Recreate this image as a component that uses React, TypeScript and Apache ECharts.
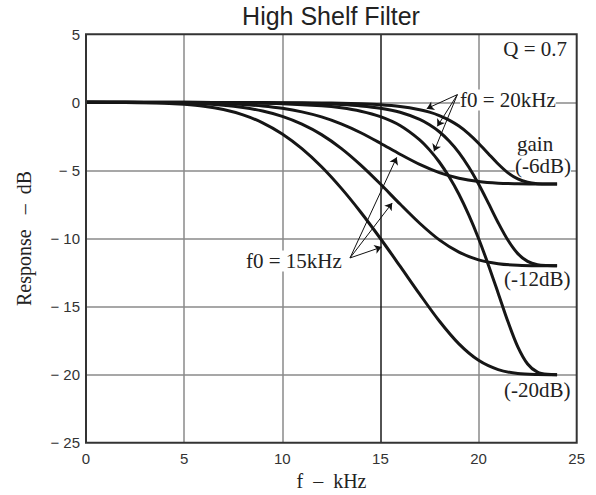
import React, { useEffect, useRef } from 'react';
import * as echarts from 'echarts';

// Frequency samples (kHz)
const freqA = [0, 2, 4, 5, 6, 7, 8, 9, 10, 11, 12, 13, 14, 15, 16, 17, 18, 19, 20, 21, 22, 23, 24];
const freqB = [0, 5, 8, 10, 12, 13, 14, 15, 16, 17, 17.5, 18, 18.5, 19, 19.5, 20, 20.5, 21, 21.5, 22, 22.5, 23, 23.5, 24];

// f0 = 15 kHz responses (dB)
const f15g6 = [0, 0, -0.01, -0.02, -0.05, -0.09, -0.16, -0.27, -0.44, -0.7, -1.07, -1.58, -2.23, -3.0, -3.81, -4.56, -5.16, -5.57, -5.82, -5.94, -5.98, -6.0, -6.0];
const f15g12 = [0, 0, -0.03, -0.06, -0.11, -0.21, -0.38, -0.64, -1.03, -1.6, -2.37, -3.38, -4.61, -6.0, -7.47, -8.88, -10.1, -11.0, -11.57, -11.85, -11.97, -12.0, -12.0];
const f15g20 = [0, -0.01, -0.06, -0.14, -0.28, -0.53, -0.92, -1.5, -2.32, -3.4, -4.73, -6.3, -8.07, -10.0, -12.03, -14.09, -16.06, -17.74, -18.95, -19.63, -19.92, -19.99, -20.0];

// f0 = 20 kHz responses (dB)
const f20g6 = [0, 0, -0.01, -0.02, -0.04, -0.07, -0.11, -0.18, -0.31, -0.54, -0.72, -0.97, -1.3, -1.74, -2.31, -3.0, -3.77, -4.53, -5.18, -5.62, -5.87, -5.97, -6.0, -6.0];
const f20g12 = [0, 0, -0.02, -0.04, -0.1, -0.16, -0.26, -0.43, -0.73, -1.25, -1.65, -2.16, -2.84, -3.69, -4.75, -6.0, -7.4, -8.84, -10.13, -11.11, -11.68, -11.93, -11.99, -12.0];
const f20g20 = [0, -0.01, -0.04, -0.1, -0.25, -0.4, -0.65, -1.05, -1.7, -2.75, -3.49, -4.38, -5.47, -6.75, -8.27, -10.0, -11.94, -14.02, -16.12, -17.96, -19.22, -19.82, -19.98, -20.0];

// Axis ranges / ticks
const xMin = 0, xMax = 25, xStep = 5;
const yMin = -25, yMax = 5, yStep = 5;

// Annotation arrows in data coordinates [from, to]
const arrows20: number[][][] = [
  [[18.92, 0.57], [17.36, -0.46]],
  [[18.92, 0.57], [17.9, -1.76]],
  [[18.92, 0.57], [17.73, -3.6]],
];
const arrows15: number[][][] = [
  [[13.45, -11.43], [15.83, -4.04]],
  [[13.45, -11.43], [15.6, -7.39]],
  [[13.45, -11.43], [15.06, -10.63]],
];

const SERIF = "'Liberation Serif', 'Times New Roman', serif";
const SANS = "'Liberation Sans', Arial, sans-serif";

const zip = (xs: number[], ys: number[]) => xs.map((x, i) => [x, ys[i]]);

const curve = (name: string, xs: number[], ys: number[]) => ({
  name,
  type: 'line',
  data: zip(xs, ys),
  showSymbol: false,
  smooth: 0.3,
  lineStyle: { color: '#161616', width: 3 },
  z: 3,
});

const label = (text: string, x: number, y: number, align: string = 'left', bg = true) => ({
  type: 'text',
  x,
  y,
  z: 1,
  style: {
    text,
    fill: '#222',
    font: `21px ${SERIF}`,
    align,
    verticalAlign: 'middle',
    backgroundColor: bg ? '#fff' : undefined,
  },
});

export default function App() {
  const ref = useRef<HTMLDivElement>(null);
  useEffect(() => {
    const chart = echarts.init(ref.current!, null, { renderer: 'svg', width: 596, height: 495 });
    const gridLeft = 86, gridTop = 34.3, gridW = 490.7, gridH = 408.4;
    const axisLabel = {
      color: '#333',
      fontFamily: SANS,
      fontSize: 15,
    };
    const option: any = {
      animation: false,
      backgroundColor: '#fff',
      grid: { left: gridLeft, top: gridTop, width: gridW, height: gridH, show: false },
      xAxis: {
        type: 'value',
        min: xMin,
        max: xMax,
        interval: xStep,
        axisLine: { show: false },
        axisTick: { show: false },
        axisLabel: { ...axisLabel, margin: 8 },
        splitLine: {
          show: true,
          showMinLine: false,
          showMaxLine: false,
          lineStyle: { color: ['#8a8a8a', '#8a8a8a', '#1a1a1a', '#8a8a8a'], width: 1.5 },
        },
      },
      yAxis: {
        type: 'value',
        min: yMin,
        max: yMax,
        interval: yStep,
        axisLine: { show: false },
        axisTick: { show: false },
        axisLabel: {
          ...axisLabel,
          margin: 6,
          formatter: (v: number) => (v < 0 ? `\u2212 ${-v}` : `${v}`),
        },
        splitLine: {
          show: true,
          showMinLine: false,
          showMaxLine: false,
          lineStyle: { color: '#8a8a8a', width: 1.5 },
        },
      },
      series: [
        curve('f0=15kHz -6dB', freqA, f15g6),
        curve('f0=15kHz -12dB', freqA, f15g12),
        curve('f0=15kHz -20dB', freqA, f15g20),
        curve('f0=20kHz -6dB', freqB, f20g6),
        curve('f0=20kHz -12dB', freqB, f20g12),
        curve('f0=20kHz -20dB', freqB, f20g20),
        {
          type: 'lines',
          coordinateSystem: 'cartesian2d',
          symbol: ['none', 'arrow'],
          symbolSize: 7,
          lineStyle: { color: '#111', width: 1, opacity: 1 },
          data: [...arrows20, ...arrows15].map((c) => ({ coords: c })),
          z: 4,
        },
      ],
      graphic: [
        {
          type: 'text',
          x: 331,
          y: 16.3,
          z: 1,
          style: { text: 'High Shelf Filter', fill: '#222', font: `25px ${SANS}`, align: 'center', verticalAlign: 'middle' },
        },
        {
          type: 'text',
          x: 331.5,
          y: 481,
          z: 1,
          style: { text: 'f\u00a0\u00a0\u2013\u00a0\u00a0kHz', fill: '#222', font: `20px ${SERIF}`, align: 'center', verticalAlign: 'middle' },
        },
        {
          type: 'text',
          x: 24,
          y: 238.5,
          rotation: Math.PI / 2,
          z: 1,
          style: { text: 'Response\u00a0\u00a0\u00a0\u2013\u00a0\u00a0dB', fill: '#222', font: `20px ${SERIF}`, align: 'center', verticalAlign: 'middle' },
        },
        label('Q = 0.7', 567, 49, 'right', false),
        label('f0 = 20kHz', 460, 100),
        label('gain', 517, 143.5, 'left', false),
        label('(-6dB)', 515, 166),
        label('(-12dB)', 504, 279),
        label('(-20dB)', 504, 389.5),
        label('f0 = 15kHz', 246, 261),
        {
          type: 'rect',
          z: 100,
          shape: { x: gridLeft, y: gridTop, width: gridW, height: gridH },
          style: { fill: 'none', stroke: '#333', lineWidth: 2 },
          silent: true,
        },
      ],
    };
    chart.setOption(option);
    return () => chart.dispose();
  }, []);
  return (
    <div
      ref={ref}
      style={{ position: 'fixed', left: 0, top: 0, width: 596, height: 495, background: '#fff' }}
    />
  );
}
